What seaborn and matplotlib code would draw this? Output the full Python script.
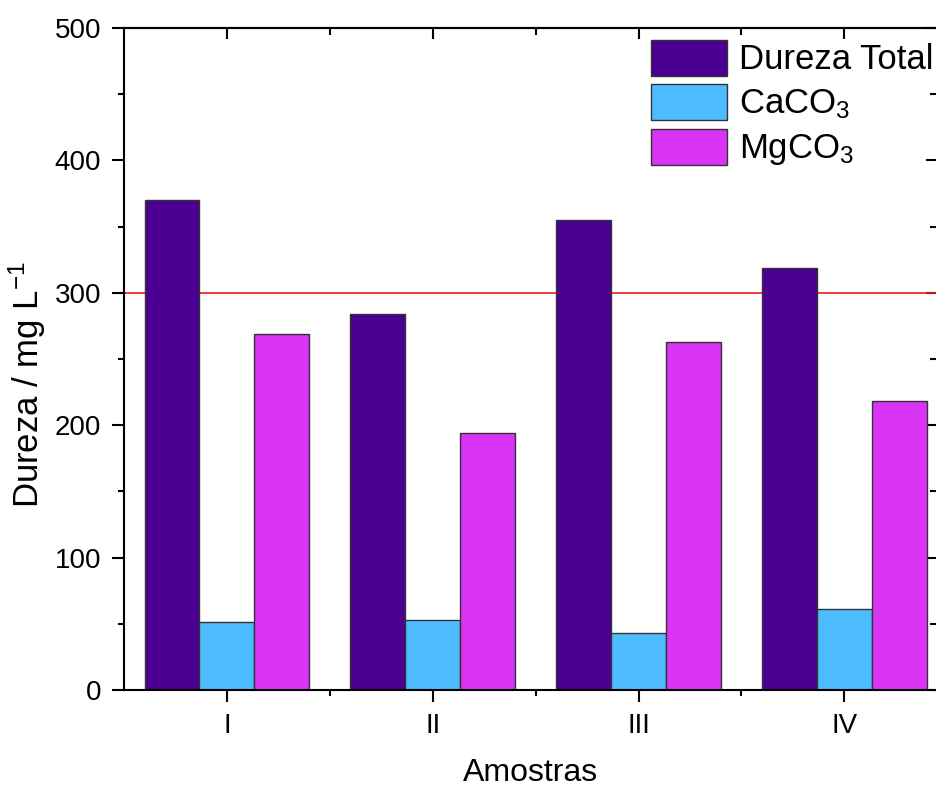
import matplotlib
matplotlib.use('Agg')
import matplotlib.pyplot as plt
from matplotlib.ticker import MultipleLocator, FixedLocator
import seaborn as sns
import pandas as pd

# Values
amostras = ['I', 'II', 'III', 'IV']
dureza_total = [370, 284, 355, 319]
caco3 = [51, 53, 43, 61]
mgco3 = [269, 194, 263, 218]
series = ['Dureza Total', 'CaCO$_3$', 'MgCO$_3$']
limite = 300

cores = ['#4B0091', '#4DBBFF', '#D933F5']

df = pd.DataFrame({
    'Amostra': amostras * 3,
    'Dureza': dureza_total + caco3 + mgco3,
    'Serie': [s for s in series for _ in amostras],
})

sns.set_theme(style='white')
plt.rcParams['font.family'] = ['Liberation Sans', 'DejaVu Sans']
plt.rcParams['mathtext.fontset'] = 'custom'
plt.rcParams['mathtext.rm'] = 'Liberation Sans'
plt.rcParams['mathtext.it'] = 'Liberation Sans'
for k in ['text.color', 'axes.labelcolor', 'xtick.color', 'ytick.color']:
    plt.rcParams[k] = 'black'

fig = plt.figure(figsize=(9.37, 7.89), dpi=100)
ax = fig.add_axes([0.1323, 0.1255, 0.8677, 0.839])

sns.barplot(data=df, x='Amostra', y='Dureza', hue='Serie', palette=cores,
            width=0.8, gap=0, edgecolor='#333333', linewidth=1.0,
            saturation=1, ax=ax)

ax.axhline(limite, color='#F01818', linewidth=1.2, zorder=0.5)

ax.set_xlim(-0.5, 3.45)
ax.set_ylim(0, 500)
ax.yaxis.set_major_locator(MultipleLocator(100))
ax.yaxis.set_minor_locator(MultipleLocator(50))
ax.xaxis.set_minor_locator(FixedLocator([0.5, 1.5, 2.5]))

ax.set_xlabel('Amostras', fontsize=23, labelpad=14)
ax.set_ylabel('Dureza / mg L$^{-1}$', fontsize=25)
ax.yaxis.set_label_coords(-0.093, 0.461)

for s in ['left', 'bottom', 'top']:
    ax.spines[s].set_linewidth(1.5)
    ax.spines[s].set_color('black')
ax.spines['right'].set_visible(False)

ax.tick_params(axis='both', which='major', direction='out', length=8.5, width=1.5,
               labelsize=20, color='black', pad=8)
ax.tick_params(axis='both', which='minor', direction='out', length=4.5, width=1.5,
               color='black')
ax.tick_params(axis='x', which='both', bottom=True)
ax.tick_params(axis='y', which='both', left=True)

top = ax.secondary_xaxis('top')
top.set_xticks([0, 1, 2, 3])
top.xaxis.set_minor_locator(FixedLocator([0.5, 1.5, 2.5]))
top.tick_params(which='major', direction='in', length=8, width=1.5, labeltop=False)
top.tick_params(which='minor', direction='in', length=5, width=1.5)
top.spines['top'].set_linewidth(1.5)

right = ax.secondary_yaxis('right')
right.yaxis.set_major_locator(MultipleLocator(100))
right.yaxis.set_minor_locator(MultipleLocator(50))
right.tick_params(which='major', direction='in', length=8, width=1.5, labelright=False)
right.tick_params(which='minor', direction='in', length=5, width=1.5)

leg = ax.legend(loc='upper left', bbox_to_anchor=(0.648, 0.982), frameon=False,
                fontsize=25, handlelength=2.2, handleheight=1.2,
                handletextpad=0.35, labelspacing=0.22, borderaxespad=0,
                borderpad=0)

fig.savefig('out.png', dpi=100)
